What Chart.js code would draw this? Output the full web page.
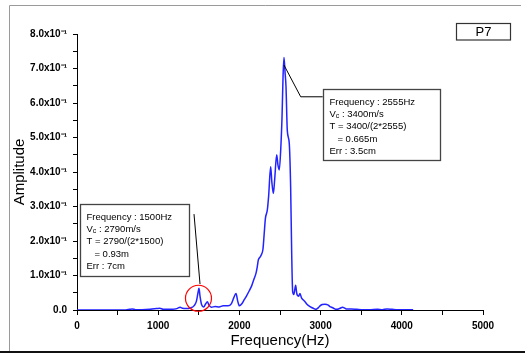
<!DOCTYPE html>
<html>
<head>
<meta charset="utf-8">
<script src="https://cdn.jsdelivr.net/npm/chart.js@4/dist/chart.umd.min.js"></script>
<style>
  html, body { margin: 0; padding: 0; background: #fff; }
</style>
</head>
<body>
<canvas id="chart" width="525" height="355"></canvas>
<script>
// spectrum (Hz, amplitude)
const freq = [0, 600, 650, 680, 720, 800, 900, 980, 1020, 1060, 1150, 1230, 1270, 1300, 1340, 1400,
  1440, 1470, 1490, 1502, 1515, 1535, 1560, 1585, 1605, 1625, 1655, 1700, 1750, 1800, 1860, 1900,
  1930, 1958, 1980, 2000, 2030, 2060, 2090, 2120, 2151, 2180, 2204, 2220, 2233, 2254, 2270, 2290,
  2305, 2320, 2344, 2360, 2385, 2400, 2418, 2435, 2459, 2475, 2491, 2510, 2525, 2538, 2549, 2562,
  2574, 2590, 2614, 2631, 2644, 2656, 2670, 2693, 2705, 2713, 2730, 2746, 2765, 2787, 2808, 2835,
  2870, 2910, 2943, 2970, 2993, 3020, 3054, 3075, 3095, 3115, 3136, 3160, 3190, 3230, 3272, 3300,
  3321, 3380, 3445, 3520, 3600, 3700, 3760, 3820, 3880, 3950, 4050, 4140];
const amp = [0, 0, 0.002, 0.003, 0.001, 0.001, 0.002, 0.004, 0.005, 0.002, 0.002, 0.004, 0.008, 0.005, 0.004, 0.006,
  0.012, 0.025, 0.05, 0.063, 0.04, 0.015, 0.009, 0.018, 0.024, 0.014, 0.008, 0.01, 0.009, 0.012, 0.012, 0.018,
  0.035, 0.048, 0.025, 0.012, 0.018, 0.03, 0.042, 0.055, 0.07, 0.09, 0.106, 0.125, 0.145, 0.153, 0.16, 0.176,
  0.22, 0.265, 0.29, 0.33, 0.415, 0.37, 0.338, 0.38, 0.45, 0.42, 0.406, 0.47, 0.56, 0.68, 0.732, 0.69,
  0.647, 0.52, 0.483, 0.357, 0.164, 0.053, 0.045, 0.072, 0.05, 0.043, 0.04, 0.048, 0.035, 0.029, 0.024, 0.016,
  0.01, 0.005, 0.002, 0.006, 0.012, 0.016, 0.017, 0.016, 0.014, 0.01, 0.008, 0.005, 0.002, 0.004, 0.008, 0.005,
  0.003, 0.003, 0.002, 0.001, 0.001, 0.002, 0.001, 0.003, 0.002, 0.001, 0.001, 0.001];

const xLabelStep = 1000;
const yLabelStep = 0.1;
const panelLabel = "P7";

// annotation texts; "V_c" gets drawn with a subscript c
const note1 = ["Frequency : 2555Hz", "V_c : 3400m/s", "T = 3400/(2*2555)", "   = 0.665m", "Err : 3.5cm"];
const note2 = ["Frequency : 1500Hz", "V_c : 2790m/s", "T = 2790/(2*1500)", "   = 0.93m", "Err : 7cm"];

// where the notes sit, in data units
const notes = [
  { lines: note1, box: [3026, 0.64], w: 117, h: 71, leader: [[2549, 0.71], [2755, 0.618], [3026, 0.618]] },
  { lines: note2, box: [37, 0.307], w: 109, h: 72, leader: [[1441, 0.278], [1515, 0.075]], circle: [1496, 0.034, 13] }
];

function drawNoteLine(ctx, text, x, y) {
  if (text.indexOf("V_c") === 0) {
    ctx.fillText("V", x, y);
    let w = ctx.measureText("V").width;
    ctx.save();
    ctx.font = "7px Arial";
    ctx.fillText("c", x + w, y + 2.5);
    let w2 = ctx.measureText("c").width;
    ctx.restore();
    ctx.fillText(text.slice(3), x + w + w2, y);
  } else {
    ctx.fillText(text, x, y);
  }
}

const extras = {
  id: 'extras',
  afterDraw(chart) {
    const ctx = chart.ctx;
    const xs = chart.scales.x, ys = chart.scales.y;
    ctx.save();

    // outer frame
    ctx.strokeStyle = '#9a9a9a';
    ctx.lineWidth = 1;
    ctx.beginPath();
    ctx.moveTo(9.5, 352);
    ctx.lineTo(9.5, 5.5);
    ctx.lineTo(521, 5.5);
    ctx.stroke();
    ctx.strokeStyle = '#111';
    ctx.lineWidth = 2;
    ctx.beginPath();
    ctx.moveTo(0, 352);
    ctx.lineTo(525, 352);
    ctx.stroke();

    // panel tag
    ctx.strokeStyle = '#333';
    ctx.lineWidth = 1.2;
    ctx.strokeRect(456.5, 23.5, 54, 16.5);
    ctx.fillStyle = '#000';
    ctx.font = '13px Arial';
    ctx.textAlign = 'center';
    ctx.textBaseline = 'middle';
    ctx.fillText(panelLabel, 483.5, 32);

    // notes
    ctx.textAlign = 'left';
    const offs = [13, 24.5, 36.5, 50, 61.5];
    notes.forEach(n => {
      ctx.strokeStyle = '#000';
      ctx.lineWidth = 1;
      ctx.beginPath();
      n.leader.forEach((p, i) => {
        const px = xs.getPixelForValue(p[0]), py = ys.getPixelForValue(p[1]);
        if (i === 0) ctx.moveTo(px, py); else ctx.lineTo(px, py);
      });
      ctx.stroke();

      const bx = Math.round(xs.getPixelForValue(n.box[0])) + 0.5;
      const by = Math.round(ys.getPixelForValue(n.box[1])) + 0.5;
      ctx.fillStyle = '#fff';
      ctx.fillRect(bx, by, n.w, n.h);
      ctx.strokeStyle = '#444';
      ctx.lineWidth = 1.3;
      ctx.strokeRect(bx, by, n.w, n.h);
      ctx.fillStyle = '#000';
      ctx.font = '9.5px Arial';
      n.lines.forEach((t, i) => drawNoteLine(ctx, t, bx + 6, by + offs[i]));

      if (n.circle) {
        ctx.strokeStyle = '#ff0000';
        ctx.lineWidth = 1.2;
        ctx.beginPath();
        ctx.arc(xs.getPixelForValue(n.circle[0]), ys.getPixelForValue(n.circle[1]), n.circle[2], 0, Math.PI * 2);
        ctx.stroke();
      }
    });
    ctx.restore();
  }
};

new Chart(document.getElementById('chart'), {
  type: 'line',
  data: {
    datasets: [{
      data: freq.map((f, i) => ({ x: f, y: amp[i] })),
      borderColor: 'rgb(35, 35, 255)',
      borderWidth: 1.5,
      pointRadius: 0,
      cubicInterpolationMode: 'monotone',
      fill: false
    }]
  },
  options: {
    responsive: false,
    animation: false,
    layout: { padding: { top: 34, right: 42, left: 0, bottom: 0 } },
    plugins: { legend: { display: false }, tooltip: { enabled: false } },
    scales: {
      x: {
        type: 'linear', min: 0, max: 5000,
        ticks: {
          stepSize: 500, autoSkip: false, maxRotation: 0, padding: 5,
          color: '#000', font: { family: 'Arial', size: 10, weight: 'bold' },
          callback: v => (v % xLabelStep === 0 ? String(v) : '')
        },
        grid: { drawOnChartArea: false, tickLength: 5, color: '#000' },
        border: { color: '#000', width: 1 },
        title: { display: true, text: 'Frequency(Hz)', color: '#000', font: { family: 'Arial', size: 15 }, padding: { bottom: 5, top: 0 } },
        afterFit: s => { s.height = 45; }
      },
      y: {
        min: 0, max: 0.8,
        ticks: {
          stepSize: 0.05, autoSkip: false, padding: 6,
          color: '#000', font: { family: 'Arial', size: 10, weight: 'bold' },
          callback: v => {
            const k = Math.round(v * 100);
            if (k % Math.round(yLabelStep * 100) !== 0) return '';
            if (k === 0) return '0.0';
            return (v * 10).toFixed(1) + 'x10\u207B\u00B9';
          }
        },
        grid: { drawOnChartArea: false, tickLength: 4, color: '#000' },
        border: { color: '#000', width: 1 },
        title: { display: true, text: 'Amplitude', color: '#000', font: { family: 'Arial', size: 15 }, padding: { top: 11, bottom: 0 } },
        afterFit: s => { s.width = 77; }
      }
    }
  },
  plugins: [extras]
});
</script>
</body>
</html>
